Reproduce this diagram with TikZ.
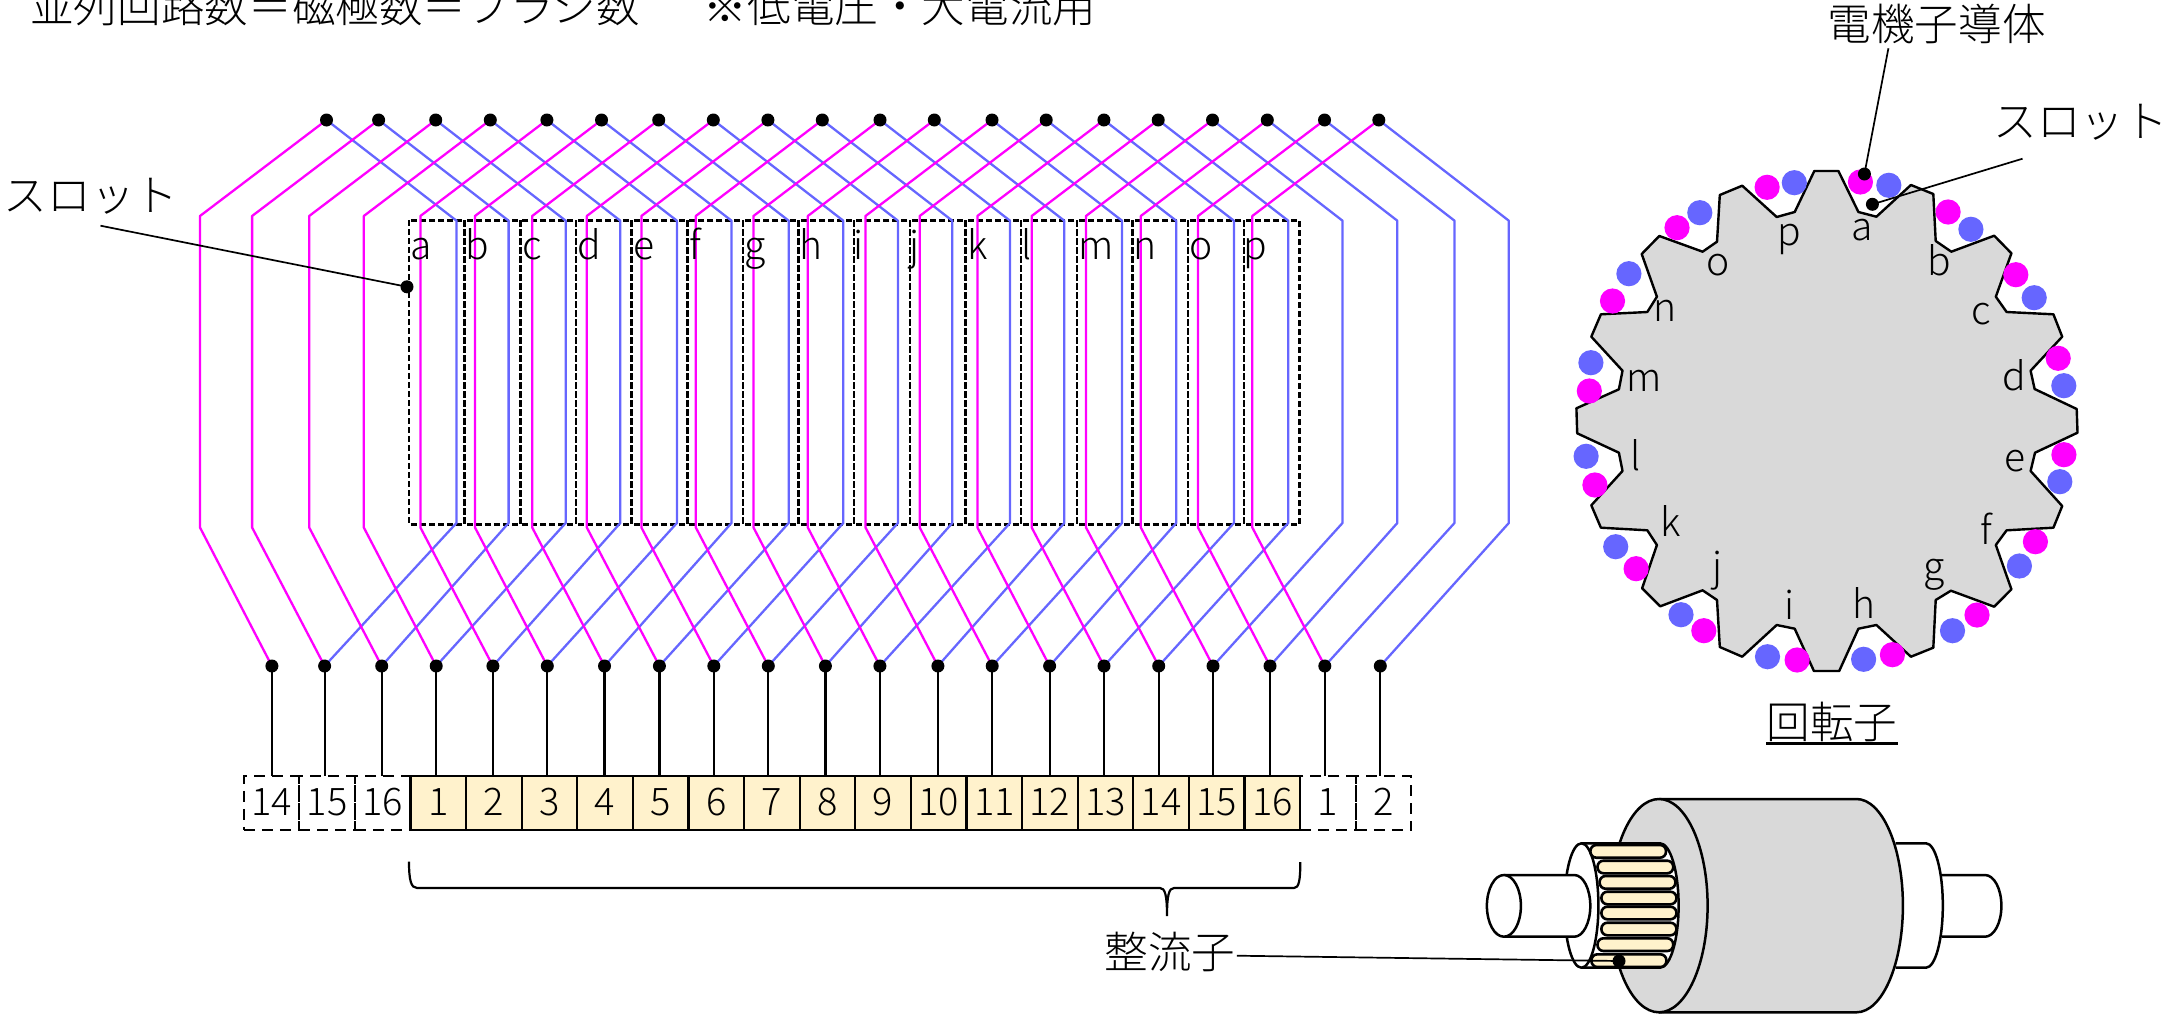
\documentclass[tikz,border=0pt]{standalone}
\usepackage{fontspec}
\newfontfamily\jp{Noto Sans CJK JP Light}
\pgfdeclarelayer{back}
\pgfsetlayers{back,main}
\definecolor{mag}{HTML}{FF00FF}
\definecolor{blu}{HTML}{6666FF}
\definecolor{beige}{HTML}{FFF2CC}
\definecolor{gry}{HTML}{D9D9D9}
\tikzset{
  dotnode/.style={circle,fill=black,inner sep=0pt,minimum size=6.5pt,outer sep=0pt},
  magwire/.style={draw=mag,line width=1.15pt,line join=round},
  bluwire/.style={draw=blu,line width=1.15pt,line join=round},
  slotbox/.style={draw=black,line width=1.2pt,dash pattern=on 3pt off 1.5pt},
  cellbase/.style={rectangle,minimum width=27.8pt,minimum height=27pt,inner sep=0pt,outer sep=0pt,font=\jp\fontsize{19}{19}\selectfont},
  cellsolid/.style={cellbase,draw=black,line width=1.1pt,fill=beige},
  celldash/.style={cellbase,draw=black,line width=1.1pt,dash pattern=on 5.5pt off 3.5pt},
  lead/.style={draw=black,line width=.85pt},
  stem/.style={draw=black,line width=1.1pt},
  big/.style={font=\jp\fontsize{21.8}{21.8}\selectfont,inner sep=0pt},
  letter/.style={font=\jp\fontsize{19.5}{19.5}\selectfont,inner sep=0pt,anchor=base},
  gear/.style={draw=black,line width=1.2pt,fill=gry,line join=round},
  rot/.style={draw=black,line width=1.25pt,line join=round},
  barstyle/.style={draw=black,line width=1.3pt,fill=beige,rounded corners=3pt},
  consm/.style={fill=mag},
  consb/.style={fill=blu},
}
\begin{document}
\begin{tikzpicture}[x=0.5pt,y=-0.5pt]
\path[use as bounding box] (0,0) rectangle (2168,1017);

% title
\node[big,anchor=base west] (title) at (30,23) {並列回路数＝磁極数＝ブラシ数\hspace{32pt}※低電圧・大電流用};

% terminals
\foreach \i/\x in {1/326.5,2/378.6,3/435.7,4/490.3,5/546.9,6/601.5,7/658.7,8/713.3,9/767.9,10/822.3,11/880,12/934.3,13/992,14/1046.2,15/1103.9,16/1158.2,17/1212.5,18/1267.3,19/1324.5,20/1378.8}
  \node[dotnode] (T\i) at (\x,120) {};
\foreach \i/\x in {1/271.9,2/324.6,3/381.7,4/436.2,5/492.9,6/547.3,7/604.5,8/659.4,9/713.8,10/768.3,11/825.4,12/879.9,13/937.9,14/992.2,15/1049.6,16/1104,17/1158.7,18/1213,19/1270,20/1324.8,21/1380.3}
  \node[dotnode] (B\i) at (\x,666) {};

\begin{pgfonlayer}{back}
  \foreach \k in {0,...,15}
    \draw[slotbox] (409+\k*55.66,220.4) rectangle ++(55.66,303.9);
  \foreach \i [evaluate=\i as \j using int(\i+1)] in {1,...,20}{
    \draw[bluwire] (T\i.center) -- ++(130,100.7) -- ++(0,302.3) -- (B\j.center);
    \draw[magwire] (T\i.center) -- ++(-126.5,96) -- ++(0,311.5) -- (B\i.center);
  }
\end{pgfonlayer}

% slot letters on the winding diagram
\foreach \l/\x in {a/421,b/477,c/532,d/589,e/644,f/695,g/755,h/810.7,i/859,j/914,k/978,l/1027,m/1096.6,n/1145,o/1201,p/1255.6}
  \node[letter] (w\l) at (\x,259) {\l};

% commutator development
\foreach \k/\n in {1/14,2/15,3/16,20/1,21/2}
  \node[celldash] (C\k) at (243.75+\k*55.6-27.8,803) {\raisebox{1pt}{\n}};
\foreach \k/\n in {4/1,5/2,6/3,7/4,8/5,9/6,10/7,11/8,12/9,13/10,14/11,15/12,16/13,17/14,18/15,19/16}
  \node[cellsolid] (C\k) at (243.75+\k*55.6-27.8,803) {\raisebox{1pt}{\n}};
\foreach \k in {1,...,21}
  \draw[stem] (B\k.center) -- (B\k.center |- C\k.north);

% brace
\draw[line width=1.1pt] (409,861.7) .. controls (409,880) and (411,888) .. (417,888) -- (1160,888)
  .. controls (1165,888) and (1167,895) .. (1167,916) .. controls (1167,895) and (1169,888) .. (1174,888)
  -- (1294,888) .. controls (1299,888) and (1300.3,880) .. (1300.3,862);

% left slot label
\node[big] (slotL) at (91,196) {スロット};
\coordinate (slotLend) at (100.5,225.7);
\node[dotnode] (slotLdot) at (407,286.8) {};
\draw[lead] (slotLend) -- (slotLdot.center);

% rotor cross-section
\draw[gear] (1814.3,171) -- (1838.4,171) -- (1858.4,212) -- (1876.4,216.7) -- (1910.9,185) -- (1933.3,194) -- (1935.7,241) -- (1951.3,251.7) -- (1994.2,235.7) -- (2011.4,253.3) -- (1995.8,296.7) -- (2006.6,312) -- (2053.4,314.3) -- (2062.2,336.7) -- (2030.6,370.7) -- (2034.6,389) -- (2076.7,409) -- (2077.5,432.7) -- (2035,452.7) -- (2030.6,471) -- (2062.2,506) -- (2053.4,527.7) -- (2006.6,530.3) -- (1995.8,545) -- (2011.4,589.3) -- (1994.2,606.7) -- (1950.9,590.7) -- (1935.7,600) -- (1933.3,647.7) -- (1910.9,656.7) -- (1876.4,625) -- (1858.4,628.7) -- (1839.2,671) -- (1813.9,671) -- (1794.7,628.7) -- (1776.7,625) -- (1742.2,656.7) -- (1719.8,647) -- (1717,600) -- (1702.6,590.3) -- (1660.2,606.3) -- (1642.1,588.3) -- (1656.9,545) -- (1647.3,530.3) -- (1600.9,527.7) -- (1591.3,505.3) -- (1622.5,471) -- (1618.9,452.7) -- (1577.2,433.3) -- (1576.4,408.3) -- (1618.9,389.3) -- (1622.5,370.7) -- (1591.3,336.7) -- (1600.9,314.3) -- (1647.3,312) -- (1656.9,296.7) -- (1641.7,254) -- (1659.3,236) -- (1702.6,251.7) -- (1717,241.7) -- (1719.8,195) -- (1742.2,185.7) -- (1776.7,217) -- (1794.7,212) -- cycle;
\foreach \x/\y in {1860.4/182,1948.1/212,2015.8/274.7,2058.2/358.3,1767.1/187.3,1677/227.7,1612.5/301,1589.3/391,2063.9/454.7,2035.4/541.7,1977/615,1892.4/654.7,1797.1/660,1703.8/630.7,1636.1/568.7,1594.9/485}
  \fill[consm] (\x,\y) circle[radius=12.6];
\foreach \x/\y in {1888.8/185.3,1970.9/229.3,2034.2/297.7,2063.8/385.7,1794.3/182.7,1699.8/212.7,1628.9/273.7,1590.9/362.7,2059.8/481.7,2019.4/566,1952.5/630.7,1863.6/659.3,1767.5/656.7,1681/614.7,1615.7/546.7,1586.1/456.3}
  \fill[consb] (\x,\y) circle[radius=12.6];
\foreach \l/\x/\y in {a/1862.4/240.7,b/1938.8/275,c/1981.7/324.3,d/2014.6/390.7,e/2014.6/471.7,f/1986.2/544,g/1933.7/580,h/1864.4/618.7,i/1789.1/619.3,j/1717.4/580,k/1670.6/536,l/1636.1/470.7,m/1644.1/391.7,n/1665.4/321.7,o/1718.2/275,p/1789.5/245}
  \node[letter] (r\l) at (\x,\y) {\l};

\node[big] (armature) at (1936.6,24) {電機子導体};
\coordinate (armatureEnd) at (1888.4,48.3);
\node[dotnode] (armatureDot) at (1864.4,174) {};
\draw[lead] (armatureEnd) -- (armatureDot.center);
\node[big] (slotR) at (2080.6,122) {スロット};
\coordinate (slotRend) at (2022.5,158.7);
\node[dotnode] (slotRdot) at (1872.4,204.3) {};
\draw[lead] (slotRend) -- (slotRdot.center);

\node[big] (rotorlabel) at (1832,722) {回転子};
\draw[line width=1.5pt] (1766,743.5) -- (1897.6,743.5);

% rotor perspective view
\draw[rot,fill=white] (1942,875) -- (1985,875) arc[start angle=-90,end angle=90,x radius=16.4,y radius=30.85] -- (1942,936.7);
\draw[rot,fill=white] (1895.7,843.3) -- (1926,843.3) arc[start angle=-90,end angle=90,x radius=16.8,y radius=62.2] -- (1895.7,967.7);
\draw[rot,fill=gry] (1659,799) -- (1856.4,799) arc[start angle=-90,end angle=90,x radius=46.5,y radius=106.65] -- (1659,1012.3);
\draw[rot,fill=gry] (1659,905.65) ellipse[x radius=48.6,y radius=106.65];
\draw[rot,fill=white] (1581.4,843.3) -- (1660,843.3) arc[start angle=-90,end angle=90,x radius=18.6,y radius=62.2] -- (1581.4,967.7);
\draw[rot,fill=white] (1581.4,905.5) ellipse[x radius=17,y radius=62.2];
\draw[rot,fill=white] (1503.9,875) -- (1574.3,875) arc[start angle=-90,end angle=90,x radius=16,y radius=30.85] -- (1503.9,936.7);
\draw[rot,fill=white] (1503.9,905.85) ellipse[x radius=17,y radius=30.85];
\foreach \a/\b/\c/\d in {1590.4/845/1666/857.7,1597.5/860.7/1673.2/873.3,1599.6/876/1675.4/888.7,1601.4/891.7/1676.4/904.3,1601.4/906.7/1676.4/919.3,1601.4/922.7/1676.4/935.3,1597.5/938.3/1673.2/951,1591.4/954.3/1666.4/967}
  \draw[barstyle] (\a,\b) rectangle (\c,\d);

\node[big] (commlabel) at (1170,952) {整流子};
\coordinate (commEnd) at (1236.8,955.7);
\node[dotnode] (commDot) at (1619,961) {};
\draw[lead] (commEnd) -- (commDot.center);
\end{tikzpicture}
\end{document}
